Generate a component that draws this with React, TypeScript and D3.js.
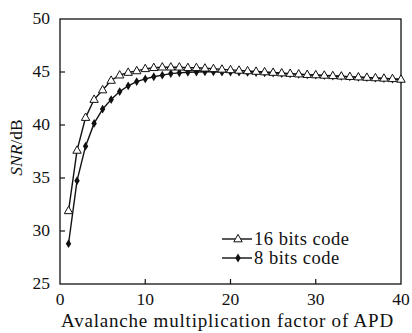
import React from "react";
import * as d3 from "d3";

// Avalanche multiplication factor M (1..40)
const gainFactors: number[] = d3.range(1, 41);

// SNR (dB) for 16-bit code words
const snr16: number[] = [
  31.9, 37.6, 40.7, 42.4, 43.3, 44.2, 44.7, 44.95, 45.1, 45.3,
  45.4, 45.45, 45.45, 45.45, 45.4, 45.4, 45.35, 45.3, 45.25, 45.2,
  45.15, 45.1, 45.05, 45.0, 44.95, 44.9, 44.85, 44.8, 44.75, 44.72,
  44.68, 44.64, 44.6, 44.56, 44.52, 44.48, 44.44, 44.4, 44.36, 44.3,
];

// SNR (dB) for 8-bit code words
const snr8: number[] = [
  28.8, 34.75, 38.0, 40.15, 41.5, 42.4, 43.15, 43.7, 44.1, 44.35,
  44.55, 44.7, 44.85, 44.92, 44.97, 45.0, 45.02, 45.02, 45.0, 45.0,
  44.98, 44.96, 44.94, 44.92, 44.9, 44.86, 44.82, 44.78, 44.74, 44.7,
  44.66, 44.62, 44.58, 44.54, 44.5, 44.46, 44.42, 44.38, 44.34, 44.3,
];

const xTicks: number[] = [0, 10, 20, 30, 40];
const yTicks: number[] = [25, 30, 35, 40, 45, 50];
const legendLabels: string[] = ["16 bits code", "8 bits code"];

const W = 412;
const H = 333;
const margin = { left: 60, right: 11, top: 19, bottom: 49 };
const txt: React.CSSProperties = {
  fontFamily: "'Liberation Serif', Tinos, 'Times New Roman', 'DejaVu Serif', serif",
};
const INK = "#111";

const triPath = "M0,-4.6 L4.2,2.8 L-4.2,2.8 Z";
const diaPath = "M0,-4.4 L2.7,0 L0,4.4 L-2.7,0 Z";

export default function App() {
  const x = d3.scaleLinear().domain([0, 40]).range([margin.left, W - margin.right]);
  const y = d3.scaleLinear().domain([25, 50]).range([H - margin.bottom, margin.top]);
  const line = d3
    .line<number>()
    .x((_, i) => x(gainFactors[i]))
    .y((d) => y(d));

  const x0 = x(0);
  const x1 = x(40);
  const yb = y(25);
  const yt = y(50);

  const legendX = 222;
  const legendY = [239, 258];

  return (
    <svg
      width={W}
      height={H}
      style={{ position: "absolute", left: 0, top: 0, background: "#fff" }}
    >
      <rect x={0} y={0} width={W} height={H} fill="#fff" />
      {/* frame */}
      <rect x={x0} y={yt} width={x1 - x0} height={yb - yt} fill="none" stroke={INK} strokeWidth={1.3} />
      {/* bottom ticks (inward) */}
      {xTicks.map((t) => (
        <g key={"xt" + t}>
          {t > 0 && t < 40 && (
            <line x1={x(t)} x2={x(t)} y1={yb} y2={yb - 5} stroke={INK} strokeWidth={1.2} />
          )}
          <text x={x(t)} y={yb + 21} fontSize={17.5} textAnchor="middle" fill={INK} style={txt}>
            {t}
          </text>
        </g>
      ))}
      {/* left ticks (inward) */}
      {yTicks.map((t) => (
        <g key={"yt" + t}>
          {t > 25 && t < 50 && (
            <line x1={x0} x2={x0 + 5} y1={y(t)} y2={y(t)} stroke={INK} strokeWidth={1.2} />
          )}
          <text x={x0 - 10} y={y(t) + 5} fontSize={17.5} textAnchor="end" fill={INK} style={txt}>
            {t}
          </text>
        </g>
      ))}
      {/* axis titles */}
      <text x={x(20) - 3} y={H - 6} fontSize={19} textAnchor="middle" fill={INK} letterSpacing={0.8} style={txt}>
        Avalanche multiplication factor of APD
      </text>
      <text
        transform={`translate(22,${(yt + yb) / 2 - 4}) rotate(-90)`}
        fontSize={17.5}
        textAnchor="middle"
        fill={INK}
        style={txt}
      >
        <tspan fontStyle="italic">SNR</tspan>/dB
      </text>

      {/* series lines */}
      <path d={line(snr16) ?? ""} fill="none" stroke={INK} strokeWidth={1.4} />
      <path d={line(snr8) ?? ""} fill="none" stroke={INK} strokeWidth={1.4} />

      {/* markers */}
      {snr8.map((v, i) => (
        <path key={"d" + i} d={diaPath} transform={`translate(${x(gainFactors[i])},${y(v)})`} fill={INK} />
      ))}
      {snr16.map((v, i) => (
        <path
          key={"t" + i}
          d={triPath}
          transform={`translate(${x(gainFactors[i])},${y(v)})`}
          fill="#fff"
          stroke={INK}
          strokeWidth={1}
        />
      ))}

      {/* legend */}
      {legendLabels.map((lab, i) => (
        <g key={lab}>
          <line x1={legendX} x2={legendX + 30} y1={legendY[i]} y2={legendY[i]} stroke={INK} strokeWidth={1.4} />
          <path
            d={i === 0 ? triPath : diaPath}
            transform={`translate(${legendX + 16},${legendY[i]})`}
            fill={i === 0 ? "#fff" : INK}
            stroke={i === 0 ? INK : "none"}
            strokeWidth={1}
          />
          <text x={legendX + 32} y={legendY[i] + 6} fontSize={18.5} letterSpacing={0.5} fill={INK} style={txt}>
            {lab}
          </text>
        </g>
      ))}
    </svg>
  );
}
